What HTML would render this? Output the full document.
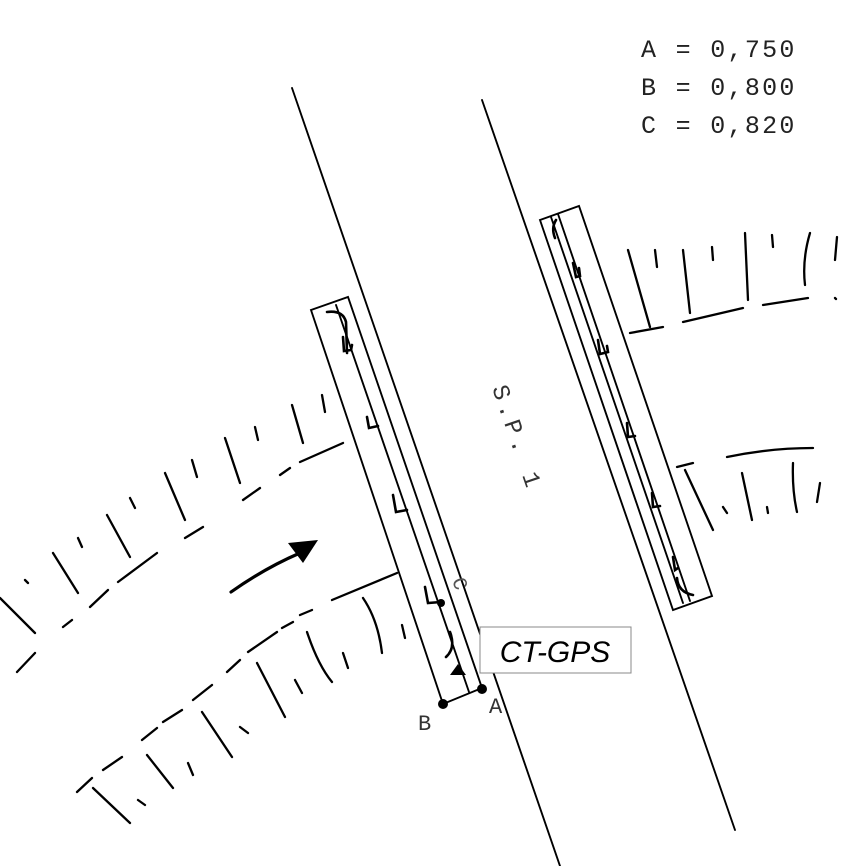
<!DOCTYPE html>
<html><head><meta charset="utf-8"><style>
html,body{margin:0;padding:0;background:#fff;}
svg{display:block}
</style></head><body>
<svg width="866" height="866" viewBox="0 0 866 866" xmlns="http://www.w3.org/2000/svg">
<rect width="866" height="866" fill="#fff"/>
<g stroke="#000" fill="none" stroke-width="1.9" stroke-linecap="round">
<line x1="292" y1="88" x2="560" y2="866"/>
<line x1="482" y1="100" x2="735" y2="830"/>
<polygon points="311,310 348,297 482,688 443,704"/>
<line x1="336" y1="305" x2="469" y2="692"/>
<polygon points="540,220 579,206 712,596 673,610"/>
<line x1="551" y1="217" x2="683" y2="603"/>
<line x1="558" y1="214" x2="690" y2="601"/>
</g>
<g stroke="#000" fill="none" stroke-width="2.6" stroke-linecap="round">
<path d="M327,312 Q343,310 346,322 L347,353"/>
<path d="M343,337 L344,351 L351,350 L352,345"/>
<path d="M367,417 L369,428 L378,426"/>
<path d="M393,495 L396,512 L407,510"/>
<path d="M425,587 L428,603 L441,602"/>
<path d="M450,632 Q456,648 446,657"/>
<path d="M556,220 Q551,228 555,238"/>
<path d="M573,263 L576,277 L580,276 L579,268"/>
<path d="M598,340 L600,354 L608,352 L607,346"/>
<path d="M627,423 L628,437 L635,436"/>
<path d="M652,493 L653,507 L660,506"/>
<path d="M673,557 L675,570 L678,568"/>
<path d="M677,578 Q678,592 693,595"/>
</g>
<circle cx="441" cy="603" r="4"/>
<circle cx="482" cy="689" r="5"/>
<circle cx="443" cy="704" r="5"/>
<polygon points="450,675 458,664 466,675" fill="#000"/>
<g stroke="#000" fill="none" stroke-width="2.3" stroke-linecap="round">
<path d="M343,443L300,462 M290,468L280,475 M260,488L243,500 M203,527L185,538 M157,553L118,582 M108,590L90,607 M72,620L63,627 M35,653L17,672"/>
<path d="M292,405L303,443 M322,395L325,412 M225,438L240,483 M255,427L258,440 M165,473L185,520 M192,460L197,477 M107,515L130,557 M130,498L135,508 M53,553L78,593 M78,538L82,547 M25,580L28,583 M0,598L35,633"/>
<path d="M397,573L332,600 M312,610L300,615 M293,622L282,628 M277,632L248,652 M240,660L227,672 M212,685L193,700 M182,710L163,722 M157,728L142,740 M122,757L103,770 M92,778L77,792"/>
<path d="M363,598Q378,620 382,653 M402,625L405,638 M307,632Q318,665 332,682 M343,653L348,668 M257,663L285,717 M295,680L302,693 M202,712L232,757 M240,727L248,733 M147,755L173,788 M188,763L193,775 M93,788L130,823 M138,800L145,805"/>
<path d="M628,250L650,327 M655,250L657,267 M683,250L690,313 M712,247L713,260 M745,233L748,300 M772,235L773,247 M810,233Q802,260 805,285 M837,237L835,260 M835,298L836,299"/>
<path d="M630,333L663,327 M683,322L743,308 M763,305L808,298"/>
<path d="M727,457Q770,448 813,448 M677,467L693,463"/>
<path d="M685,470L713,530 M723,507L727,513 M742,473L752,520 M767,507L768,513 M793,463Q792,490 797,512 M820,483L817,502"/>
<path d="M231,592 Q265,568 300,553" stroke-width="3.2"/>
</g>
<polygon points="288,543 318,540 303,563" fill="#000"/>
<g font-family="Liberation Mono, monospace" fill="#222" font-size="25" letter-spacing="2.3">
<text x="641" y="57">A = 0,750</text>
<text x="641" y="95">B = 0,800</text>
<text x="641" y="133">C = 0,820</text>
</g>
<text x="0" y="0" font-family="Liberation Mono, monospace" font-size="24" fill="#333" letter-spacing="4" transform="translate(492,388) rotate(71)">S.P. 1</text>
<text font-family="Liberation Mono, monospace" font-size="22" fill="#333" x="418" y="730">B</text>
<text font-family="Liberation Mono, monospace" font-size="22" fill="#333" x="489" y="713">A</text>
<text font-family="Liberation Mono, monospace" font-size="20" fill="#555" transform="translate(452,580) rotate(71)">C</text>
<rect x="480" y="627" width="151" height="46" fill="#fff" stroke="#888" stroke-width="1"/>
<text x="555" y="662" text-anchor="middle" font-family="Liberation Sans, sans-serif" font-style="italic" font-size="30" fill="#000">CT-GPS</text>
</svg>
</body></html>
